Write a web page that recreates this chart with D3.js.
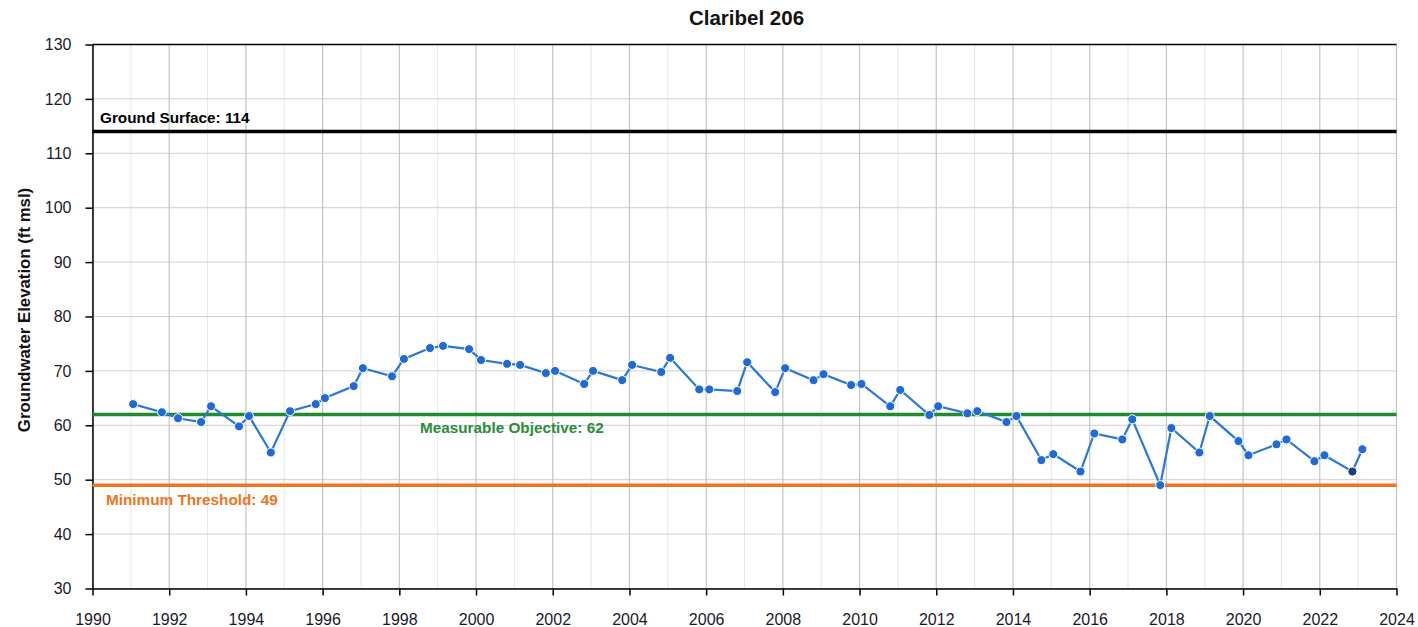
<!DOCTYPE html>
<html>
<head>
<meta charset="utf-8">
<script src="https://cdn.jsdelivr.net/npm/d3@7"></script>
<style>
  html, body { margin: 0; padding: 0; background: #fff; }
  svg { display: block; font-family: Arial, "Liberation Sans", sans-serif; }
</style>
</head>
<body>
<svg id="chart" width="1418" height="627"></svg>
<script>
// ---- data ----
const title = "Claribel 206";
const yLabel = "Groundwater Elevation (ft msl)";
const dates = [
  1991.06, 1991.81, 1992.23, 1992.83, 1993.09, 1993.82, 1994.08, 1994.65, 1995.15, 1995.82,
  1996.06, 1996.81, 1997.05, 1997.81, 1998.12, 1998.80, 1999.14, 1999.82, 2000.13, 2000.81,
  2001.15, 2001.82, 2002.06, 2002.82, 2003.05, 2003.81, 2004.07, 2004.83, 2005.06, 2005.82,
  2006.08, 2006.81, 2007.07, 2007.80, 2008.06, 2008.80, 2009.06, 2009.78, 2010.05, 2010.80,
  2011.06, 2011.82, 2012.05, 2012.81, 2013.07, 2013.83, 2014.09, 2014.74, 2015.05, 2015.76,
  2016.12, 2016.85, 2017.11, 2017.84, 2018.13, 2018.86, 2019.13, 2019.88, 2020.14, 2020.87,
  2021.13, 2021.86, 2022.12, 2022.85, 2023.11
];
const elevations = [
  63.9, 62.4, 61.3, 60.6, 63.5, 59.8, 61.7, 55.0, 62.6, 63.9,
  65.0, 67.2, 70.5, 69.0, 72.2, 74.2, 74.6, 74.0, 72.0, 71.3,
  71.1, 69.6, 70.0, 67.6, 70.0, 68.3, 71.1, 69.8, 72.4, 66.6,
  66.6, 66.3, 71.6, 66.1, 70.5, 68.3, 69.4, 67.4, 67.6, 63.5,
  66.5, 61.9, 63.5, 62.2, 62.6, 60.6, 61.7, 53.6, 54.7, 51.5,
  58.5, 57.4, 61.1, 49.0, 59.5, 55.0, 61.7, 57.1, 54.5, 56.5,
  57.4, 53.4, 54.5, 51.5, 55.6
];
const refNames = ["Ground Surface", "Measurable Objective", "Minimum Threshold"];
const refValues = [114, 62, 49];
const refColors = ["#000000", "#1f8b2c", "#ee7421"];
const xTicks = d3.range(1990, 2025, 2);
const xMinor = d3.range(1991, 2024, 2);
const yTicks = d3.range(30, 131, 10);

// ---- layout ----
const L = 92.5, R = 1396.5, T = 44.5, B = 588.5;
const svg = d3.select("#chart");
const x = d3.scaleLinear().domain([1990, 2024]).range([L, R]);
const y = d3.scaleLinear().domain([30, 130]).range([B, T]);

// grid
const grid = svg.append("g");
grid.selectAll("line.minor").data(xMinor).join("line")
  .attr("x1", d => x(d)).attr("x2", d => x(d)).attr("y1", T).attr("y2", B)
  .attr("stroke", "#e6e6e6").attr("stroke-width", 1);
grid.selectAll("line.hy").data(yTicks).join("line")
  .attr("x1", L).attr("x2", R).attr("y1", d => y(d)).attr("y2", d => y(d))
  .attr("stroke", "#cfcfcf").attr("stroke-width", 1);
grid.selectAll("line.major").data(xTicks).join("line")
  .attr("x1", d => x(d)).attr("x2", d => x(d)).attr("y1", T).attr("y2", B)
  .attr("stroke", "#c4c4c4").attr("stroke-width", 1.2);

// top border
svg.append("line").attr("x1", L).attr("x2", R).attr("y1", T).attr("y2", T)
  .attr("stroke", "#000").attr("stroke-width", 1.5);

// axes
const xAxis = svg.append("g").attr("transform", `translate(0,${B})`)
  .call(d3.axisBottom(x).tickValues(xTicks).tickFormat(d3.format("d")).tickSize(7).tickPadding(18).tickSizeOuter(0));
const yAxis = svg.append("g").attr("transform", `translate(${L},0)`)
  .call(d3.axisLeft(y).tickValues(yTicks).tickSize(7).tickPadding(14).tickSizeOuter(0));
[xAxis, yAxis].forEach(a => {
  a.select(".domain").attr("stroke", "#000").attr("stroke-width", 1.5);
  a.selectAll(".tick line").attr("stroke", "#000").attr("stroke-width", 1.5);
  a.selectAll(".tick text").attr("fill", "#1a1a2a").style("font-size", "16px")
    .style("font-family", "Arial, 'Liberation Sans', sans-serif");
});

// reference lines
const refs = refNames.map((n, i) => ({ name: n, value: refValues[i], color: refColors[i] }));
svg.selectAll("line.ref").data(refs).join("line")
  .attr("x1", L).attr("x2", R).attr("y1", d => y(d.value)).attr("y2", d => y(d.value))
  .attr("stroke", d => d.color).attr("stroke-width", 3.5);

const labelPos = [
  { x: 100, dy: -9 },
  { x: 420, dy: 19 },
  { x: 106, dy: 20 }
];
svg.selectAll("text.ref").data(refs).join("text")
  .attr("x", (d, i) => labelPos[i].x)
  .attr("y", (d, i) => y(d.value) + labelPos[i].dy)
  .attr("fill", (d, i) => i === 1 ? "#2e8b3a" : d.color)
  .style("font-size", "15.3px").style("font-weight", "bold")
  .text(d => `${d.name}: ${d.value}`);

// series
const pts = dates.map((d, i) => ({ t: d, v: elevations[i] }));
svg.append("path").datum(pts)
  .attr("fill", "none").attr("stroke", "#2a78d4").attr("stroke-width", 2.2)
  .attr("d", d3.line().x(d => x(d.t)).y(d => y(d.v)));
svg.selectAll("circle.pt").data(pts).join("circle")
  .attr("cx", d => x(d.t)).attr("cy", d => y(d.v)).attr("r", 4.5)
  .attr("fill", (d, i) => i === pts.length - 2 ? "#1d3f78" : "#1f6ad6")
  .attr("stroke", "#ffffff").attr("stroke-width", 1);

// title
svg.append("text").attr("x", (L + R) / 2 + 2).attr("y", 25)
  .attr("text-anchor", "middle").style("font-size", "20.5px").style("font-weight", "bold")
  .attr("fill", "#111").text(title);

// y label
svg.append("text").attr("transform", `translate(30,${310}) rotate(-90)`)
  .attr("text-anchor", "middle").style("font-size", "16.8px").style("font-weight", "bold")
  .attr("fill", "#111").text(yLabel);
</script>
</body>
</html>
